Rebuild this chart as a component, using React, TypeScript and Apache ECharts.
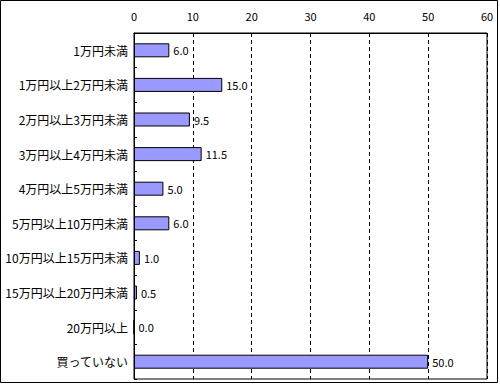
import React, { useEffect, useRef } from "react";
import * as echarts from "echarts";

const categories = [
  "1万円未満",
  "1万円以上2万円未満",
  "2万円以上3万円未満",
  "3万円以上4万円未満",
  "4万円以上5万円未満",
  "5万円以上10万円未満",
  "10万円以上15万円未満",
  "15万円以上20万円未満",
  "20万円以上",
  "買っていない",
];
const values = [6.0, 15.0, 9.5, 11.5, 5.0, 6.0, 1.0, 0.5, 0.0, 50.0];
const axisMin = 0;
const axisMax = 60;
const axisStep = 10;

const FONT = "'Noto Sans CJK JP', 'Noto Sans', sans-serif";

export default function App() {
  const ref = useRef<HTMLDivElement>(null);
  useEffect(() => {
    document.body.style.margin = "0";
    const chart = echarts.init(ref.current!, null, { renderer: "svg" });
    chart.setOption({
      animation: false,
      backgroundColor: "#ffffff",
      graphic: [
        {
          type: "rect",
          shape: { x: 0.5, y: 0.5, width: 497, height: 382 },
          style: { fill: "none", stroke: "#000", lineWidth: 1 },
          silent: true,
        },
      ],
      grid: {
        left: 134,
        top: 33,
        width: 353,
        height: 346,
        show: true,
        borderColor: "#000",
        borderWidth: 1,
        backgroundColor: "transparent",
      },
      xAxis: {
        type: "value",
        position: "top",
        min: axisMin,
        max: axisMax,
        interval: axisStep,
        axisLine: { show: true, lineStyle: { color: "#000" } },
        axisTick: { show: false },
        axisLabel: { color: "#000", fontSize: 11, fontFamily: FONT, margin: 12 },
        splitLine: {
          show: true,
          lineStyle: { color: "#000", type: [4, 3], width: 1 },
        },
      },
      yAxis: {
        type: "category",
        data: categories,
        inverse: true,
        axisLine: { show: true, lineStyle: { color: "#000" } },
        axisTick: { show: true, inside: true, length: 3, lineStyle: { color: "#000" } },
        axisLabel: { color: "#000", fontSize: 12, fontFamily: FONT, margin: 6 },
        splitLine: { show: false },
      },
      series: [
        {
          type: "bar",
          data: values,
          barWidth: 14,
          itemStyle: { color: "#9999FF", borderColor: "#000", borderWidth: 1 },
          label: {
            show: true,
            position: "right",
            distance: 4,
            color: "#000",
            fontSize: 11,
            fontFamily: FONT,
            formatter: (p: any) => Number(p.value).toFixed(1),
          },
        },
      ],
    });
    return () => chart.dispose();
  }, []);
  return <div ref={ref} style={{ width: 500, height: 385 }} />;
}
